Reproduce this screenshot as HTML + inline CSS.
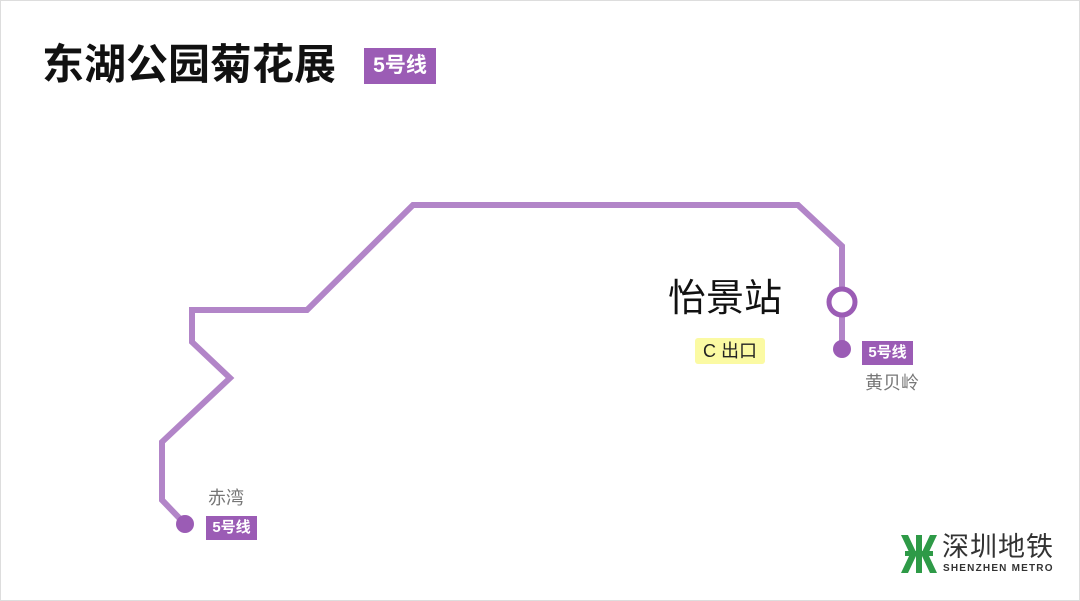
<!DOCTYPE html>
<html><head><meta charset="utf-8"><style>
body{margin:0;width:1080px;height:601px;background:#fff;overflow:hidden;font-family:"Liberation Sans","Noto Sans CJK SC",sans-serif;position:relative}
.t{position:absolute;white-space:nowrap}
.tag{position:absolute;background:#9b5cb5;color:#fff;font-weight:bold;text-align:center}
</style></head><body>
<div style="position:absolute;left:0;top:0;width:1078px;height:599px;border:1px solid #ddd"></div>
<div class="t" style="left:42px;top:39px;font-size:42px;font-weight:bold;color:#111;line-height:52px">东湖公园菊花展</div>
<div class="tag" style="left:364px;top:48px;width:72px;height:36px;line-height:36px;font-size:21px">5号线</div>
<svg width="1080" height="601" style="position:absolute;left:0;top:0">
<polyline points="185,524 162,500 162,442 230,378 192,342 192,310 307,310 413,205 798,205 842,246 842,350" fill="none" stroke="#b285c8" stroke-width="6" stroke-linejoin="miter"/>
<circle cx="842" cy="302" r="13" fill="#fff" stroke="#9b5cb5" stroke-width="5"/>
<circle cx="842" cy="349" r="9" fill="#9b5cb5"/>
<circle cx="185" cy="524" r="9" fill="#9b5cb5"/>
<g fill="#2e9a47">
<polygon points="901,535 908,535 916,552 916,556 908,573 901,573 910,554"/>
<polygon points="937,535 930,535 922,552 922,556 930,573 937,573 928,554"/>
<rect x="916" y="535" width="6" height="38"/>
<rect x="905" y="551" width="28" height="5"/>
</g>
</svg>
<div class="t" style="left:668px;top:276px;font-size:38px;color:#111;line-height:46px">怡景站</div>
<div class="t" style="left:695px;top:338px;width:70px;height:26px;background:#fbfaa3;border-radius:3px;font-size:18px;line-height:26px;text-align:center;color:#222">C 出口</div>
<div class="tag" style="left:862px;top:341px;width:51px;height:24px;line-height:24px;font-size:15px">5号线</div>
<div class="t" style="left:865px;top:372px;font-size:18px;color:#777;line-height:22px">黄贝岭</div>
<div class="t" style="left:208px;top:487px;font-size:18px;color:#777;line-height:22px">赤湾</div>
<div class="tag" style="left:206px;top:516px;width:51px;height:24px;line-height:24px;font-size:15px">5号线</div>
<div class="t" style="left:942px;top:531px;font-size:27px;color:#333;line-height:32px;letter-spacing:1px">深圳地铁</div>
<div class="t" style="left:943px;top:563px;font-size:10px;color:#333;font-weight:bold;letter-spacing:1.2px">SHENZHEN METRO</div>
</body></html>
